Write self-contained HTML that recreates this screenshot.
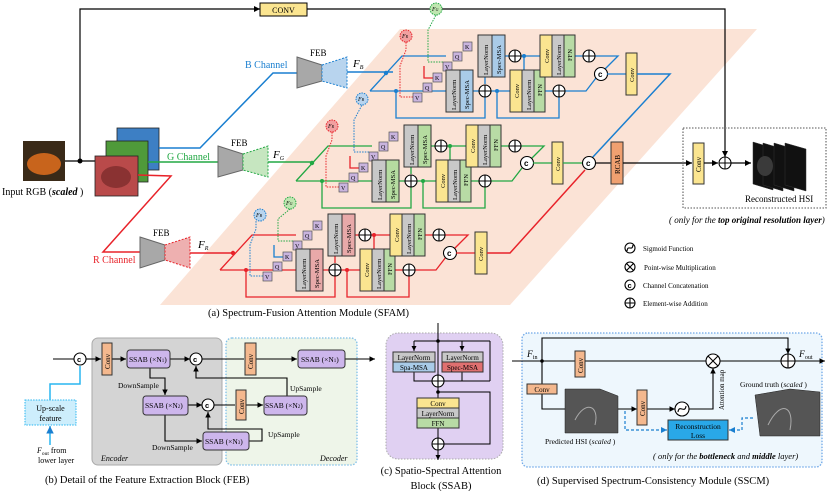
<!DOCTYPE html>
<html><head><meta charset="utf-8"><style>
html,body{margin:0;padding:0;background:#fff;}
svg{display:block;font-family:"Liberation Serif",serif;}
</style></head><body>
<svg width="831" height="491" viewBox="0 0 831 491" xmlns="http://www.w3.org/2000/svg">
<defs>
<marker id="ar" markerWidth="6" markerHeight="6" refX="5" refY="3" orient="auto"><path d="M0,0.5 L5,3 L0,5.5z" fill="#000"/></marker>
<marker id="arb" markerWidth="6" markerHeight="6" refX="5" refY="3" orient="auto"><path d="M0,0.5 L5,3 L0,5.5z" fill="#1a7fd0"/></marker>
</defs>
<!-- salmon background -->
<polygon points="400,29 757,29 510,305 160,305" fill="#fbe3d6"/>
<!-- top conv line -->
<polyline points="80,161 80,9 260,9" fill="none" stroke="#000" stroke-width="1.2" marker-end="url(#ar)"/>
<rect x="260" y="3" width="47" height="13" fill="#fbe590" stroke="#000"/>
<text x="283.5" y="13" font-size="8" text-anchor="middle">CONV</text>
<polyline points="307,9 725,9 725,157" fill="none" stroke="#000" stroke-width="1.2" marker-end="url(#ar)"/>
<!-- input image -->
<rect x="23" y="141" width="42" height="40" fill="#3a2a18"/>
<ellipse cx="44" cy="164" rx="17" ry="11" fill="#c8641c"/>
<line x1="65" y1="161" x2="95" y2="161" stroke="#000" stroke-width="1.2"/>
<circle cx="80" cy="161" r="2.5" fill="#000"/>
<text x="2" y="195" font-size="10">Input RGB (<tspan font-weight="bold" font-style="italic">scaled</tspan> )</text>
<rect x="117" y="128" width="42" height="42" fill="#3d7fc4" stroke="#222" stroke-width="0.8"/>
<rect x="106" y="141" width="42" height="41" fill="#4f9a3a" stroke="#222" stroke-width="0.8"/>
<rect x="95" y="156" width="43" height="40" fill="#b94a4a" stroke="#222" stroke-width="0.8"/>
<ellipse cx="116" cy="177" rx="15" ry="11" fill="#8a3232"/>
<!-- channel lines -->
<polyline points="159,148 200,148 273,73 297,73" fill="none" stroke="#1a7fd0" stroke-width="1.5"/>
<polyline points="148,162 218,162" fill="none" stroke="#22a844" stroke-width="1.5"/>
<polyline points="138,175 171,176 103,252 140,252" fill="none" stroke="#e8232a" stroke-width="1.5"/>
<text x="245" y="68" font-size="10" fill="#1a7fd0">B Channel</text>
<text x="167" y="160" font-size="10" fill="#22a844">G Channel</text>
<text x="93" y="263" font-size="10" fill="#e8232a">R Channel</text>
<!-- FEBs -->
<g>
<polygon points="297,57 322,65 322,81 297,88" fill="#a8a8a8" stroke="#666"/>
<polygon points="322,65 347,57 347,88 322,81" fill="#b8d4ee" stroke="#1a7fd0" stroke-dasharray="2,1.5"/>
<text x="310" y="56" font-size="9">FEB</text>
<text x="353" y="67" font-size="11" font-style="italic">F<tspan font-size="6" dy="2">B</tspan></text>
<line x1="347" y1="72" x2="393" y2="72" stroke="#1a7fd0" stroke-width="1.5"/>
<polygon points="218,146 243,154 243,170 218,177" fill="#a8a8a8" stroke="#666"/>
<polygon points="243,154 268,146 268,177 243,170" fill="#c6e6c0" stroke="#22a844" stroke-dasharray="2,1.5"/>
<text x="231" y="146" font-size="9">FEB</text>
<text x="273" y="158" font-size="11" font-style="italic">F<tspan font-size="6" dy="2">G</tspan></text>
<line x1="268" y1="162" x2="313" y2="162" stroke="#22a844" stroke-width="1.5"/>
<polygon points="140,237 165,245 165,260 140,268" fill="#a8a8a8" stroke="#666"/>
<polygon points="165,245 190,237 190,268 165,260" fill="#eeb0b0" stroke="#e8232a" stroke-dasharray="2,1.5"/>
<text x="153" y="236" font-size="9">FEB</text>
<text x="198" y="248" font-size="11" font-style="italic">F<tspan font-size="6" dy="2">R</tspan></text>
<line x1="190" y1="253" x2="233" y2="253" stroke="#e8232a" stroke-width="1.5"/>
</g>

<!-- STREAM B -->
<g transform="translate(446,70)" font-size="7">
<g fill="none" stroke="#1a7fd0" stroke-width="1.3">
<polyline points="-76,21 -44,-14 0,-14"/><polyline points="-76,21 0,21"/>
<polyline points="59,-14 94,-14"/><polyline points="129,-14 172,-14 158,0"/>
<polyline points="27,21 64,21"/><polyline points="99,21 140,21 150,8"/>
<polyline points="-50,21 -50,48 39,48 39,27"/><polyline points="51,21 51,48 113,48 113,27"/>
<polyline points="78,-14 78,0"/><polyline points="39,14 39,0 32,0"/>
</g>
<circle cx="-60" cy="3" r="2.2" fill="#1a7fd0"/><circle cx="-50" cy="21" r="2" fill="#1a7fd0"/><circle cx="51" cy="21" r="2" fill="#1a7fd0"/><circle cx="78" cy="-14" r="2" fill="#1a7fd0"/>
<polyline points="-33,27 -46,27 -46,-4 -40,-20 -40,-28" fill="none" stroke="#e8232a" stroke-dasharray="1.5,1.2"/>
<polyline points="-22,-4 -22,8 -4,8" fill="none" stroke="#e8232a" stroke-width="1.3"/>
<circle cx="-40" cy="-34" r="6" fill="#f2a0a0" stroke="#e8232a" stroke-dasharray="1.5,1"/><text x="-44" y="-32" font-size="6" font-style="italic">F<tspan font-size="4">R</tspan></text>
<polyline points="-3,-8 -18,-8 -18,-40 -10,-55" fill="none" stroke="#22a844" stroke-dasharray="1.5,1.2"/>
<circle cx="-10" cy="-61" r="6" fill="#bfe6b0" stroke="#22a844" stroke-dasharray="1.5,1"/><text x="-14" y="-59" font-size="6" font-style="italic">F<tspan font-size="4">G</tspan></text>
<g stroke="#555" stroke-width="0.7" fill="#c9b4de">
<rect x="-13" y="3" width="9" height="9"/><rect x="-23" y="13" width="9" height="9"/><rect x="-33" y="23" width="9" height="9"/>
<rect x="17" y="-28" width="9" height="9"/><rect x="7" y="-18" width="9" height="9"/><rect x="-3" y="-8" width="9" height="9"/>
</g>
<g font-size="6"><text x="-11" y="10">K</text><text x="-21" y="20">Q</text><text x="-31" y="30">V</text><text x="19" y="-21">K</text><text x="9" y="-11">Q</text><text x="-1" y="-1">V</text></g>
<g stroke="#333" stroke-width="1">
<rect x="0" y="0" width="14" height="42" fill="#c8c8c8"/><rect x="14" y="0" width="13" height="42" fill="#a9cbe8"/>
<rect x="32" y="-35" width="14" height="42" fill="#c8c8c8"/><rect x="46" y="-35" width="13" height="42" fill="#a9cbe8"/>
<rect x="64" y="0" width="12" height="42" fill="#fbe590"/><rect x="76" y="0" width="12" height="42" fill="#c8c8c8"/><rect x="88" y="0" width="11" height="42" fill="#b8dba5"/>
<rect x="94" y="-35" width="12" height="42" fill="#fbe590"/><rect x="106" y="-35" width="12" height="42" fill="#c8c8c8"/><rect x="118" y="-35" width="11" height="42" fill="#b8dba5"/>
</g>
<g font-size="6.5">
<text transform="translate(10,40) rotate(-90)">LayerNorm</text><text transform="translate(23,39) rotate(-90)">Spec-MSA</text>
<text transform="translate(42,5) rotate(-90)">LayerNorm</text><text transform="translate(55,4) rotate(-90)">Spec-MSA</text>
<text transform="translate(73,28) rotate(-90)">Conv</text><text transform="translate(85,40) rotate(-90)">LayerNorm</text><text transform="translate(96,26) rotate(-90)">FFN</text>
<text transform="translate(103,-7) rotate(-90)">Conv</text><text transform="translate(115,5) rotate(-90)">LayerNorm</text><text transform="translate(126,-9) rotate(-90)">FFN</text>
</g>
<g fill="#fff" stroke="#000" stroke-width="1.1">
<circle cx="39" cy="21" r="6"/><circle cx="69" cy="-14" r="6"/><circle cx="113" cy="21" r="6"/><circle cx="143" cy="-14" r="6"/>
<path d="M33,21h12M39,15v12M63,-14h12M69,-20v12M107,21h12M113,15v12M137,-14h12M143,-20v12" fill="none"/>
<circle cx="155" cy="4" r="6.5"/>
</g>
<text x="152" y="7" font-size="8" font-weight="bold" font-family="Liberation Sans">c</text>
<line x1="161" y1="4" x2="180" y2="4" stroke="#1a7fd0" stroke-width="1.3"/>
<rect x="180" y="-17" width="11" height="42" fill="#fbe590" stroke="#333"/>
<text transform="translate(188,12) rotate(-90)" font-size="6.5">Conv</text>
</g>
<polyline points="637,74 670,74 592,158" fill="none" stroke="#1a7fd0" stroke-width="1.5"/>

<!-- STREAM G -->
<g transform="translate(372,160)" font-size="7">
<g fill="none" stroke="#22a844" stroke-width="1.3">
<polyline points="-76,21 -44,-14 0,-14"/><polyline points="-76,21 0,21"/>
<polyline points="59,-14 94,-14"/><polyline points="129,-14 172,-14 158,0"/>
<polyline points="27,21 64,21"/><polyline points="99,21 140,21 150,8"/>
<polyline points="-50,21 -50,48 39,48 39,27"/><polyline points="51,21 51,48 113,48 113,27"/>
<polyline points="78,-14 78,0"/><polyline points="39,14 39,0 32,0"/>
</g>
<circle cx="-60" cy="3" r="2.2" fill="#22a844"/><circle cx="-50" cy="21" r="2" fill="#22a844"/><circle cx="51" cy="21" r="2" fill="#22a844"/><circle cx="78" cy="-14" r="2" fill="#22a844"/>
<polyline points="-33,27 -46,27 -46,-4 -40,-20 -40,-28" fill="none" stroke="#e8232a" stroke-dasharray="1.5,1.2"/>
<polyline points="-22,-4 -22,8 -4,8" fill="none" stroke="#e8232a" stroke-width="1.3"/>
<circle cx="-40" cy="-34" r="6" fill="#f2a0a0" stroke="#e8232a" stroke-dasharray="1.5,1"/><text x="-44" y="-32" font-size="6" font-style="italic">F<tspan font-size="4">R</tspan></text>
<polyline points="-3,-8 -18,-8 -18,-40 -10,-55" fill="none" stroke="#1a7fd0" stroke-dasharray="1.5,1.2"/>
<circle cx="-10" cy="-61" r="6" fill="#b8d4ee" stroke="#1a7fd0" stroke-dasharray="1.5,1"/><text x="-14" y="-59" font-size="6" font-style="italic">F<tspan font-size="4">B</tspan></text>
<g stroke="#555" stroke-width="0.7" fill="#c9b4de">
<rect x="-13" y="3" width="9" height="9"/><rect x="-23" y="13" width="9" height="9"/><rect x="-33" y="23" width="9" height="9"/>
<rect x="17" y="-28" width="9" height="9"/><rect x="7" y="-18" width="9" height="9"/><rect x="-3" y="-8" width="9" height="9"/>
</g>
<g font-size="6"><text x="-11" y="10">K</text><text x="-21" y="20">Q</text><text x="-31" y="30">V</text><text x="19" y="-21">K</text><text x="9" y="-11">Q</text><text x="-1" y="-1">V</text></g>
<g stroke="#333" stroke-width="1">
<rect x="0" y="0" width="14" height="42" fill="#c8c8c8"/><rect x="14" y="0" width="13" height="42" fill="#b5dca0"/>
<rect x="32" y="-35" width="14" height="42" fill="#c8c8c8"/><rect x="46" y="-35" width="13" height="42" fill="#b5dca0"/>
<rect x="64" y="0" width="12" height="42" fill="#fbe590"/><rect x="76" y="0" width="12" height="42" fill="#c8c8c8"/><rect x="88" y="0" width="11" height="42" fill="#b8dba5"/>
<rect x="94" y="-35" width="12" height="42" fill="#fbe590"/><rect x="106" y="-35" width="12" height="42" fill="#c8c8c8"/><rect x="118" y="-35" width="11" height="42" fill="#b8dba5"/>
</g>
<g font-size="6.5">
<text transform="translate(10,40) rotate(-90)">LayerNorm</text><text transform="translate(23,39) rotate(-90)">Spec-MSA</text>
<text transform="translate(42,5) rotate(-90)">LayerNorm</text><text transform="translate(55,4) rotate(-90)">Spec-MSA</text>
<text transform="translate(73,28) rotate(-90)">Conv</text><text transform="translate(85,40) rotate(-90)">LayerNorm</text><text transform="translate(96,26) rotate(-90)">FFN</text>
<text transform="translate(103,-7) rotate(-90)">Conv</text><text transform="translate(115,5) rotate(-90)">LayerNorm</text><text transform="translate(126,-9) rotate(-90)">FFN</text>
</g>
<g fill="#fff" stroke="#000" stroke-width="1.1">
<circle cx="39" cy="21" r="6"/><circle cx="69" cy="-14" r="6"/><circle cx="113" cy="21" r="6"/><circle cx="143" cy="-14" r="6"/>
<path d="M33,21h12M39,15v12M63,-14h12M69,-20v12M107,21h12M113,15v12M137,-14h12M143,-20v12" fill="none"/>
<circle cx="155" cy="3" r="6.5"/>
</g>
<text x="152" y="6" font-size="8" font-weight="bold" font-family="Liberation Sans">c</text>
<line x1="161" y1="3" x2="180" y2="3" stroke="#22a844" stroke-width="1.3"/>
<rect x="180" y="-18" width="11" height="42" fill="#fbe590" stroke="#333"/>
<text transform="translate(188,11) rotate(-90)" font-size="6.5">Conv</text>
<line x1="191" y1="3" x2="211" y2="3" stroke="#22a844" stroke-width="1.3"/>
</g>

<!-- STREAM R -->
<g transform="translate(296,249)" font-size="7">
<g fill="none" stroke="#e8232a" stroke-width="1.3">
<polyline points="-76,21 -44,-14 0,-14"/><polyline points="-76,21 0,21"/>
<polyline points="59,-14 94,-14"/><polyline points="129,-14 172,-14 158,0"/>
<polyline points="27,21 64,21"/><polyline points="99,21 140,21 150,8"/>
<polyline points="-50,21 -50,48 39,48 39,27"/><polyline points="51,21 51,48 113,48 113,27"/>
<polyline points="78,-14 78,0"/><polyline points="39,14 39,0 32,0"/>
</g>
<circle cx="-63" cy="4" r="2.2" fill="#e8232a"/><circle cx="-50" cy="21" r="2" fill="#e8232a"/><circle cx="51" cy="21" r="2" fill="#e8232a"/><circle cx="78" cy="-14" r="2" fill="#e8232a"/>
<polyline points="-33,27 -46,27 -46,-4 -40,-20 -40,-28" fill="none" stroke="#1a7fd0" stroke-dasharray="1.5,1.2"/>
<polyline points="-22,-4 -22,8 -4,8" fill="none" stroke="#1a7fd0" stroke-width="1.3"/>
<circle cx="-36" cy="-34" r="6" fill="#b8d4ee" stroke="#1a7fd0" stroke-dasharray="1.5,1"/><text x="-40" y="-32" font-size="6" font-style="italic">F<tspan font-size="4">B</tspan></text>
<polyline points="-3,-8 -18,-8 -18,-30 -6,-40" fill="none" stroke="#22a844" stroke-dasharray="1.5,1.2"/>
<circle cx="-6" cy="-46" r="6" fill="#bfe6b0" stroke="#22a844" stroke-dasharray="1.5,1"/><text x="-10" y="-44" font-size="6" font-style="italic">F<tspan font-size="4">G</tspan></text>
<g stroke="#555" stroke-width="0.7" fill="#c9b4de">
<rect x="-13" y="3" width="9" height="9"/><rect x="-23" y="13" width="9" height="9"/><rect x="-33" y="23" width="9" height="9"/>
<rect x="17" y="-28" width="9" height="9"/><rect x="7" y="-18" width="9" height="9"/><rect x="-3" y="-8" width="9" height="9"/>
</g>
<g font-size="6"><text x="-11" y="10">K</text><text x="-21" y="20">Q</text><text x="-31" y="30">V</text><text x="19" y="-21">K</text><text x="9" y="-11">Q</text><text x="-1" y="-1">V</text></g>
<g stroke="#333" stroke-width="1">
<rect x="0" y="0" width="14" height="42" fill="#c8c8c8"/><rect x="14" y="0" width="13" height="42" fill="#e8a9a9"/>
<rect x="32" y="-35" width="14" height="42" fill="#c8c8c8"/><rect x="46" y="-35" width="13" height="42" fill="#e8a9a9"/>
<rect x="64" y="0" width="12" height="42" fill="#fbe590"/><rect x="76" y="0" width="12" height="42" fill="#c8c8c8"/><rect x="88" y="0" width="11" height="42" fill="#b8dba5"/>
<rect x="94" y="-35" width="12" height="42" fill="#fbe590"/><rect x="106" y="-35" width="12" height="42" fill="#c8c8c8"/><rect x="118" y="-35" width="11" height="42" fill="#b8dba5"/>
</g>
<g font-size="6.5">
<text transform="translate(10,40) rotate(-90)">LayerNorm</text><text transform="translate(23,39) rotate(-90)">Spec-MSA</text>
<text transform="translate(42,5) rotate(-90)">LayerNorm</text><text transform="translate(55,4) rotate(-90)">Spec-MSA</text>
<text transform="translate(73,28) rotate(-90)">Conv</text><text transform="translate(85,40) rotate(-90)">LayerNorm</text><text transform="translate(96,26) rotate(-90)">FFN</text>
<text transform="translate(103,-7) rotate(-90)">Conv</text><text transform="translate(115,5) rotate(-90)">LayerNorm</text><text transform="translate(126,-9) rotate(-90)">FFN</text>
</g>
<g fill="#fff" stroke="#000" stroke-width="1.1">
<circle cx="39" cy="21" r="6"/><circle cx="69" cy="-14" r="6"/><circle cx="113" cy="21" r="6"/><circle cx="143" cy="-14" r="6"/>
<path d="M33,21h12M39,15v12M63,-14h12M69,-20v12M107,21h12M113,15v12M137,-14h12M143,-20v12" fill="none"/>
<circle cx="154" cy="4" r="6.5"/>
</g>
<text x="151" y="7" font-size="8" font-weight="bold" font-family="Liberation Sans">c</text>
<line x1="160" y1="4" x2="179" y2="4" stroke="#e8232a" stroke-width="1.3"/>
<rect x="179" y="-17" width="12" height="42" fill="#fbe590" stroke="#333"/>
<text transform="translate(187,12) rotate(-90)" font-size="6.5">Conv</text>
</g>
<polyline points="487,253 510,253 585,170" fill="none" stroke="#e8232a" stroke-width="1.5"/>

<!-- fusion -->
<circle cx="589" cy="163" r="6.5" fill="#fff" stroke="#000" stroke-width="1.1"/>
<text x="586" y="166" font-size="8" font-weight="bold" font-family="Liberation Sans">c</text>
<line x1="596" y1="163" x2="611" y2="163" stroke="#000" stroke-width="1.2"/>
<rect x="611" y="142" width="12" height="42" fill="#f0a070" stroke="#333"/>
<text transform="translate(620,174) rotate(-90)" font-size="7">RCAB</text>
<line x1="623" y1="163" x2="692" y2="163" stroke="#000" stroke-width="1.2" marker-end="url(#ar)"/>
<rect x="683" y="128" width="143" height="80" fill="none" stroke="#777" stroke-width="1.3" stroke-dasharray="1.5,1.5"/>
<rect x="693" y="143" width="11" height="41" fill="#fbe590" stroke="#333"/>
<text transform="translate(701,172) rotate(-90)" font-size="7">Conv</text>
<line x1="704" y1="163" x2="718" y2="163" stroke="#000" stroke-width="1.2" marker-end="url(#ar)"/>
<circle cx="725" cy="163" r="6" fill="#fff" stroke="#000" stroke-width="1.1"/><path d="M719,163h12M725,157v12" stroke="#000"/>
<line x1="731" y1="163" x2="751" y2="163" stroke="#000" stroke-width="1.2" marker-end="url(#ar)"/>
<g fill="#111" stroke="#333" stroke-width="0.5">
<polygon points="753,142 773,148 773,190 753,184"/><polygon points="763,143 783,149 783,191 763,185"/><polygon points="774,143 794,149 794,191 774,185"/><polygon points="785,143 806,149 806,191 785,185"/>
</g>
<ellipse cx="765" cy="166" rx="8" ry="10" fill="#3a3a3a"/>
<text x="745" y="202" font-size="9">Reconstructed HSI</text>
<text x="669" y="223" font-size="9" font-style="italic">( only for the <tspan font-weight="bold">top original resolution layer</tspan>)</text>
<!-- legend -->
<g fill="none" stroke="#000" stroke-width="1.1">
<circle cx="630" cy="248" r="5"/><path d="M627,251 C628,244 632,252 633,245"/>
<circle cx="630" cy="267" r="5"/><path d="M626.5,263.5l7,7M633.5,263.5l-7,7"/>
<circle cx="630" cy="285" r="5"/>
<circle cx="630" cy="303" r="5"/><path d="M625,303h10M630,298v10"/>
</g>
<text x="627.5" y="288" font-size="7.5" font-weight="bold" font-family="Liberation Sans">c</text>
<g font-size="7"><text x="643" y="251">Sigmoid Function</text><text x="644" y="270">Point-wise Multiplication</text><text x="643" y="288">Channel Concatenation</text><text x="643" y="306">Element-wise Addition</text></g>
<text x="208" y="316" font-size="10.5">(a) Spectrum-Fusion Attention Module (SFAM)</text>

<!-- PANEL B -->
<rect x="92" y="338" width="130" height="127" rx="6" fill="#d4d4d4" stroke="#aaa"/>
<rect x="226" y="338" width="131" height="127" rx="6" fill="#eef5e9" stroke="#7fbfe8" stroke-width="1.3" stroke-dasharray="1.5,1.5"/>
<text x="101" y="461" font-size="8" font-style="italic">Encoder</text>
<text x="320" y="461" font-size="8" font-style="italic">Decoder</text>
<g stroke="#000" stroke-width="1.1" fill="none">
<line x1="53" y1="359" x2="74" y2="359"/>
<line x1="86" y1="359" x2="101" y2="359" marker-end="url(#ar)"/>
<line x1="112" y1="359" x2="126" y2="359" marker-end="url(#ar)"/>
<line x1="170" y1="359" x2="190" y2="359" marker-end="url(#ar)"/>
<line x1="202" y1="359" x2="244" y2="359"/>
<line x1="256" y1="359" x2="297" y2="359" marker-end="url(#ar)"/>
<line x1="345" y1="359" x2="375" y2="359" marker-end="url(#ar)"/>
<polyline points="150,368 150,378 165,378 165,395" marker-end="url(#ar)"/>
<line x1="188" y1="405" x2="202" y2="405" marker-end="url(#ar)"/>
<line x1="214" y1="405" x2="235" y2="405"/>
<line x1="246" y1="405" x2="263" y2="405" marker-end="url(#ar)"/>
<polyline points="287,396 287,378 196,378 196,366" marker-end="url(#ar)"/>
<polyline points="165,415 165,441 202,441" marker-end="url(#ar)"/>
<polyline points="249,441 262,441 262,429 208,429 208,412" marker-end="url(#ar)"/>
</g>
<polyline points="50,445 50,426" fill="none" stroke="#29b6f0" stroke-width="1.5" marker-end="url(#arb)"/>
<polyline points="50,400 50,384 80,384 80,366" fill="none" stroke="#29b6f0" stroke-width="1.5"/>
<rect x="25" y="400" width="51" height="25" fill="#cdeefc" stroke="#29b6f0" stroke-dasharray="1.5,1.2"/>
<text x="50.5" y="411" font-size="8" text-anchor="middle">Up-scale</text><text x="50.5" y="421" font-size="8" text-anchor="middle">feature</text>
<text x="37" y="453" font-size="8"><tspan font-style="italic">F</tspan><tspan font-size="5.5" dy="2">out</tspan><tspan dy="-2"> from</tspan></text>
<text x="38" y="463" font-size="8">lower layer</text>
<g fill="#fff" stroke="#000" stroke-width="1.1"><circle cx="80" cy="359" r="6"/><circle cx="196" cy="359" r="6"/><circle cx="208" cy="405" r="6"/></g>
<g font-size="7.5" font-weight="bold" font-family="Liberation Sans"><text x="77" y="362">c</text><text x="193" y="362">c</text><text x="205" y="408">c</text></g>
<g stroke="#333" stroke-width="1">
<rect x="102" y="343" width="10" height="32" fill="#f4b88e"/><rect x="245" y="343" width="11" height="32" fill="#f4b88e"/><rect x="236" y="390" width="10" height="30" fill="#f4b88e"/>
<rect x="127" y="350" width="43" height="18" rx="3" fill="#cdb6ec"/><rect x="298" y="350" width="47" height="18" rx="3" fill="#cdb6ec"/>
<rect x="143" y="396" width="45" height="19" rx="3" fill="#cdb6ec"/><rect x="264" y="396" width="43" height="19" rx="3" fill="#cdb6ec"/>
<rect x="203" y="432" width="46" height="18" rx="3" fill="#cdb6ec"/>
</g>
<g font-size="7"><text transform="translate(110,369) rotate(-90)">Conv</text><text transform="translate(253,369) rotate(-90)">Conv</text><text transform="translate(244,414) rotate(-90)">Conv</text></g>
<g font-size="7.5"><text x="129" y="362">SSAB (×N<tspan font-size="5">1</tspan>)</text><text x="301" y="362">SSAB (×N<tspan font-size="5">1</tspan>)</text><text x="145" y="408">SSAB (×N<tspan font-size="5">2</tspan>)</text><text x="265" y="408">SSAB (×N<tspan font-size="5">2</tspan>)</text><text x="205" y="444">SSAB (×N<tspan font-size="5">3</tspan>)</text></g>
<g font-size="7.5"><text x="118" y="388">DownSample</text><text x="290" y="391">UpSample</text><text x="268" y="437">UpSample</text><text x="152" y="450">DownSample</text></g>
<text x="45" y="483" font-size="10.5">(b) Detail of the Feature Extraction Block (FEB)</text>

<!-- PANEL C -->
<rect x="386" y="333" width="117" height="126" rx="12" fill="#e0d0f2" stroke="#aaa" stroke-dasharray="1.5,1.5"/>
<g stroke="#000" stroke-width="1" fill="none">
<line x1="438" y1="323" x2="438" y2="375"/>
<polyline points="414,341 414,351" marker-end="url(#ar)"/><line x1="414" y1="341" x2="490" y2="341"/><polyline points="462,341 462,351" marker-end="url(#ar)"/>
<polyline points="414,372 414,381 432,381"/><polyline points="462,372 462,381 444,381"/>
<line x1="490" y1="341" x2="490" y2="381"/><line x1="490" y1="381" x2="444" y2="381"/>
<line x1="438" y1="387" x2="438" y2="398"/>
<polyline points="438,392 490,392 490,444 444,444"/>
<line x1="438" y1="428" x2="438" y2="438"/>
<line x1="438" y1="450" x2="438" y2="460" marker-end="url(#ar)"/>
</g>
<circle cx="438" cy="341" r="1.8"/><circle cx="438" cy="392" r="1.8"/>
<g stroke="#333" stroke-width="1">
<rect x="393" y="352" width="42" height="10" fill="#c8c8c8"/><rect x="393" y="362" width="42" height="10" fill="#a9cbe8"/>
<rect x="442" y="352" width="41" height="10" fill="#c8c8c8"/><rect x="442" y="362" width="41" height="10" fill="#e07070"/>
<rect x="417" y="398" width="42" height="10" fill="#fbe590"/><rect x="417" y="408" width="42" height="10" fill="#c8c8c8"/><rect x="417" y="418" width="42" height="10" fill="#b8dba5"/>
</g>
<g font-size="7" text-anchor="middle"><text x="414" y="360">LayerNorm</text><text x="414" y="370">Spa-MSA</text><text x="462.5" y="360">LayerNorm</text><text x="462.5" y="370">Spec-MSA</text><text x="438" y="406">Conv</text><text x="438" y="416">LayerNorm</text><text x="438" y="426">FFN</text></g>
<g fill="#fff" stroke="#000" stroke-width="1.1"><circle cx="438" cy="381" r="6"/><circle cx="438" cy="444" r="6"/><path d="M432,381h12M438,375v12M432,444h12M438,438v12" fill="none"/></g>
<text x="441" y="474" font-size="10.5" text-anchor="middle">(c) Spatio-Spectral Attention</text>
<text x="441" y="489" font-size="10.5" text-anchor="middle">Block (SSAB)</text>

<!-- PANEL D -->
<rect x="522" y="333" width="300" height="134" rx="6" fill="#eef7fd" stroke="#6fa8e8" stroke-width="1.3" stroke-dasharray="1.5,1.5"/>
<g stroke="#000" stroke-width="1.1" fill="none">
<line x1="512" y1="361" x2="706" y2="361"/>
<line x1="720" y1="361" x2="781" y2="361"/>
<line x1="795" y1="361" x2="825" y2="361" marker-end="url(#ar)"/>
<polyline points="542,361 542,338 788,338 788,354" marker-end="url(#ar)"/>
<line x1="542" y1="361" x2="542" y2="384"/>
<polyline points="542,393 542,409 565,409"/>
<line x1="618" y1="409" x2="637" y2="409" marker-end="url(#ar)"/>
<line x1="647" y1="409" x2="675" y2="409" marker-end="url(#ar)"/>
<polyline points="689,409 713,409 713,368" marker-end="url(#ar)"/>
</g>
<circle cx="542" cy="361" r="1.8"/>
<polyline points="625,411 625,430 667,430" fill="none" stroke="#1a7fd0" stroke-width="1.2" stroke-dasharray="3,2" marker-end="url(#arb)"/>
<polyline points="753,418 742,418 742,430 729,430" fill="none" stroke="#1a7fd0" stroke-width="1.2" stroke-dasharray="3,2" marker-end="url(#arb)"/>
<rect x="575" y="351" width="10" height="26" fill="#f4b88e" stroke="#333"/>
<text transform="translate(583,373) rotate(-90)" font-size="7">Conv</text>
<rect x="527" y="384" width="30" height="10" fill="#f4b88e" stroke="#333"/>
<text x="542" y="392" font-size="7" text-anchor="middle">Conv</text>
<rect x="637" y="390" width="10" height="35" fill="#f4b88e" stroke="#333"/>
<text transform="translate(645,416) rotate(-90)" font-size="7">Conv</text>
<rect x="668" y="420" width="60" height="20" fill="#29a8e8" stroke="#333"/>
<text x="698" y="429" font-size="7.5" text-anchor="middle">Reconstruction</text><text x="698" y="438" font-size="7.5" text-anchor="middle">Loss</text>
<g fill="#fff" stroke="#000" stroke-width="1.1">
<circle cx="713" cy="361" r="7"/><path d="M708,356l10,10M718,356l-10,10" fill="none"/>
<circle cx="788" cy="361" r="7"/><path d="M781,361h14M788,354v14" fill="none"/>
<circle cx="682" cy="409" r="7"/><path d="M678,412 C679,404 685,414 686,406" fill="none"/>
</g>
<g fill="#555" stroke="#222" stroke-width="0.5">
<polygon points="565,389 600,389 618,396 618,433 565,433"/>
<polygon points="755,395 790,389 820,392 820,436 760,436"/>
</g>
<path d="M575,420 C585,400 600,405 595,425 M768,425 C780,400 795,405 790,430" stroke="#aaa" fill="none"/>
<text x="527" y="357" font-size="9.5" font-style="italic">F<tspan font-size="6" dy="2" font-style="normal">in</tspan></text>
<text x="799" y="357" font-size="9.5" font-style="italic">F<tspan font-size="6" dy="2" font-style="normal">out</tspan></text>
<text transform="translate(724,410) rotate(-90)" font-size="7">Attention map</text>
<text x="740" y="387" font-size="7.5">Ground truth (<tspan font-style="italic">scaled</tspan> )</text>
<text x="545" y="444" font-size="7.5">Predicted HSI (<tspan font-style="italic">scaled</tspan> )</text>
<text x="653" y="459" font-size="8.5" font-style="italic">( only for the <tspan font-weight="bold">bottleneck</tspan> and <tspan font-weight="bold">middle</tspan> layer)</text>
<text x="537" y="484" font-size="10.5">(d) Supervised Spectrum-Consistency Module (SSCM)</text>
</svg>
</body></html>
